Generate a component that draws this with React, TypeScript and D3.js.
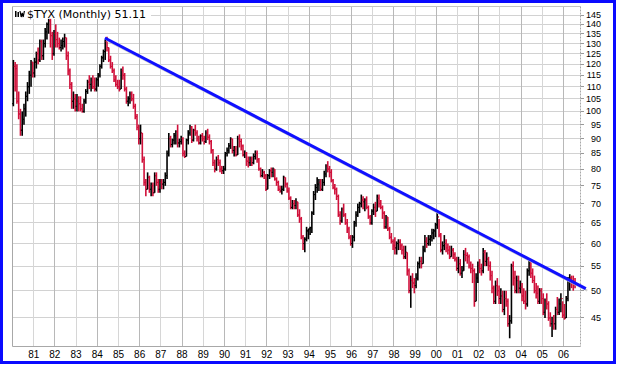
import React from 'react'
import * as d3 from 'd3'

// $TYX monthly bars, Jan 1980 .. Jul 2006 (open = previous close)
const startYear = 1980
const firstOpen = 103

const highs = [
  122, 121, 120, 108, 101, 100, 103, 108, 112, 117, 122, 121, // 1980
  123, 126, 128, 132, 132, 132, 138, 141, 143, 143, 136, 137, // 1981
  140, 136, 133, 132, 133, 135, 133, 126, 118, 112, 108, 107, // 1982
  107, 106, 106, 103, 105, 109, 113, 115, 114, 115, 114, 114, // 1983
  116, 120, 124, 127, 132, 133.5, 128, 124, 121, 118, 115, 113, // 1984
  113, 118, 119, 116, 110, 106, 108, 108, 107, 103, 99, 95, // 1985
  95, 92, 84, 77, 79, 78, 76, 76, 79, 79, 77, 77, // 1986
  77, 77, 79, 86, 92, 91, 90, 92, 93, 95, 90, 91, // 1987
  90.5, 86, 90, 93, 95, 94.5, 93.5, 95, 93, 91, 91.5, 92, // 1988
  91, 93, 93.5, 91.5, 89.5, 86.5, 83, 84, 84.5, 83, 81, 81, // 1989
  85.5, 87, 88.5, 90.5, 90, 87.5, 87.5, 91, 91.5, 90, 88, 86, // 1990
  85.5, 84, 84, 84, 85, 86, 86, 83.5, 80.5, 80, 79.5, 78.5, // 1991
  78.5, 80, 80.5, 80.5, 80, 77.5, 76.5, 75, 75, 78, 77.5, 76, // 1992
  74.5, 72, 71, 71, 71.5, 70.5, 68.5, 66.5, 62, 61.5, 64, 63.5, // 1993
  64, 68, 73.5, 75.5, 77.5, 77, 77, 77, 79.5, 81.5, 82.5, 81, // 1994
  80, 77, 75.5, 74.5, 72.5, 68, 69, 70, 67.5, 66, 64, 62, // 1995
  62, 65.5, 68, 70, 70.5, 72.5, 72, 71.5, 72, 69.5, 67, 68.5, // 1996
  70, 70.5, 72.5, 72.5, 71, 69.5, 68, 67, 66.5, 64, 62.5, 61, // 1997
  61.5, 60.5, 61, 61, 60, 59.5, 59.5, 58, 54.5, 53, 53.5, 52.5, // 1998
  53.5, 56, 57, 57, 59.5, 62, 61.5, 62, 62, 63.5, 63.5, 65, // 1999
  68, 66, 62.5, 60.5, 62, 61, 60, 59.5, 59.5, 59, 58, 57, // 2000
  57, 56.5, 55, 58.5, 59, 58, 57.5, 56, 55.5, 54.5, 53.5, 56, // 2001
  56.5, 55.5, 59, 58.5, 58, 57, 56, 54, 51, 52, 52.5, 51, // 2002
  50.5, 50, 50, 50, 48.5, 45.5, 55.5, 56, 54, 53, 53, 52, // 2003
  51.5, 50.5, 50, 54.5, 56.5, 56, 54.5, 53, 51.5, 51, 50.5, 50.5, // 2004
  49.5, 48.5, 49.5, 48, 46, 45.2, 45.5, 47, 48.8, 48.5, 49.5, 48, // 2005
  47.5, 49, 52.7, 53.3, 53, 53, 52.5, // 2006
]

const lows = [
  102, 108, 103, 97, 91, 91, 95, 98, 104, 107, 110, 114,
  114, 118, 120, 121, 122, 122, 128, 132, 135, 128, 122, 124,
  128, 128, 127, 126, 127, 128, 122, 115, 109, 101, 101, 100,
  100, 100, 100, 99.5, 99.5, 103, 107, 109, 108, 109, 108, 108,
  110, 114, 118, 121, 122, 126, 121, 118, 116, 112, 110, 109,
  108, 109, 113, 108, 103, 102, 103, 104, 101, 97, 93, 88,
  88, 82, 75, 72, 74, 73, 72, 72, 73, 75, 73, 73,
  74, 74, 75, 77, 84, 87, 87, 88, 88, 87, 87, 88,
  84, 83.5, 84, 88, 91, 88.5, 89, 91, 89, 88, 88, 89,
  88, 88.5, 89.5, 88, 85, 81, 79, 79.5, 81, 79, 78.5, 78.5,
  79.5, 84, 85, 86.5, 85, 84, 84, 84.5, 87, 86, 84, 83.5,
  81, 80.5, 81, 81, 81.5, 83, 82, 79.5, 77.5, 77.5, 77, 73.5,
  74, 77, 77.5, 77.5, 76.5, 75, 73.5, 73, 72.5, 73.5, 74.5, 73,
  71, 68.5, 68.5, 68.5, 68.5, 66.5, 65, 61, 58.5, 58, 60.5, 61,
  62, 62.5, 67, 71, 73, 73.5, 73.5, 73.5, 75, 77.5, 79, 77.5,
  76, 74, 72.5, 71, 66.5, 64.5, 65, 66.5, 64.5, 62.5, 61, 59.5,
  59, 60.5, 64, 66.5, 67.5, 69, 68.5, 68, 68.5, 66, 64.5, 64.5,
  67, 66.5, 68, 69, 68.5, 66, 63.5, 63.5, 63, 61, 60, 58.5,
  57.5, 57.5, 58.5, 58.5, 57.5, 56.5, 56.5, 53, 49.5, 46.8, 50.5, 49.5,
  50.5, 52, 54.5, 54.5, 55.5, 58, 59, 59.5, 59.5, 60.5, 61, 61.5,
  63.5, 61.5, 58, 57.5, 58.5, 58, 57.5, 56.5, 57, 56.5, 56, 54,
  53.5, 53, 52.5, 54, 56, 55.5, 54.5, 53.5, 51.5, 47, 48, 51.5,
  53.5, 53, 53.5, 55, 55, 54, 52, 49.5, 47.5, 47.5, 49, 47.5,
  47.5, 46, 45.5, 47, 43.5, 41.6, 44, 51, 49.5, 49.5, 49.5, 49.5,
  48, 47.5, 46.5, 47, 53, 52.5, 51.5, 49.5, 48.5, 47.5, 47.5, 47.5,
  45.5, 45, 46.5, 44.5, 43.5, 41.8, 43, 43, 45.5, 45.5, 46, 45,
  44.7, 45, 48, 50, 50.5, 50, 50.5,
]

const closes = [
  119, 118, 104, 99, 93, 97, 101, 106, 110, 115, 121, 116,
  121, 125, 122, 131, 124, 130, 136, 140, 142, 134, 125, 135,
  132, 130, 128, 129, 131, 133, 124, 117, 111, 104, 105, 102,
  104, 103, 101, 100, 104, 108, 112, 111, 112, 110, 109, 113,
  115, 119, 123, 126, 131, 128, 122, 119, 117, 113, 111, 110,
  109, 117, 115, 109, 104, 105, 107, 105, 102, 98, 94, 90,
  92, 83, 76, 74, 77.5, 74, 75, 73, 78, 76, 74, 76,
  75.5, 76, 78, 85, 90, 88, 89.5, 91, 92.5, 88.5, 89, 90,
  85, 84, 89.5, 92, 94, 89.5, 93, 92, 90, 88.5, 91, 90,
  89, 92, 90.5, 89, 86, 82, 80, 83, 82, 80, 79.5, 80,
  85, 86, 87.5, 90, 86, 86.5, 84.5, 90, 89, 87.5, 84.5, 85,
  82.5, 82, 83, 82, 84, 85, 83, 80, 78, 79, 78, 74,
  78, 79.5, 79, 80, 77, 76, 74, 73.5, 74, 77.5, 75.5, 73.5,
  71.5, 69, 70, 69.5, 70.5, 67, 66, 61.5, 60, 61, 63, 63.5,
  63.8, 67.5, 72.5, 74.5, 75.5, 76, 74, 76, 78.5, 81, 80, 79,
  76.5, 74.5, 74, 72, 67, 65.5, 68.5, 67, 65, 63.5, 61.5, 60,
  61.5, 65, 67, 69, 70, 71, 70.5, 71, 69, 66.5, 65, 68,
  69, 68, 71.5, 70, 69, 67.5, 64, 66.5, 63.5, 61.5, 60.5, 59.5,
  59, 60, 60.3, 59.5, 58.5, 57, 58, 54, 50, 52, 51.5, 51,
  52.5, 55.5, 56, 55.5, 58.5, 60.5, 60, 61, 61.5, 62.5, 63, 64.5,
  66.5, 62, 58.5, 59.5, 60, 59, 58.5, 57, 58.5, 57.5, 56.5, 54.5,
  55.5, 53.5, 54, 57.5, 57.3, 57, 55, 54.5, 54, 48, 52.5, 55,
  54.5, 54, 58, 56, 56.5, 55, 53, 50.5, 48, 51, 50, 48.5,
  49, 46.5, 48.5, 48, 44, 44.5, 55, 52.5, 50, 52, 50.5, 50.7,
  49, 48, 47.5, 54, 55, 53.5, 52, 50, 49.5, 48, 50, 48.5,
  46, 48, 47.5, 45, 44, 44.5, 44, 46.5, 46, 47.5, 48.5, 45.5,
  45, 48.5, 52, 52.5, 51.5, 51.3, 51.11,
]

const yearLabels = ['81', '82', '83', '84', '85', '86', '87', '88', '89', '90', '91', '92', '93',
  '94', '95', '96', '97', '98', '99', '00', '01', '02', '03', '04', '05', '06']
const priceTicks = [45, 50, 55, 60, 65, 70, 75, 80, 85, 90, 95, 100, 105, 110, 115, 120, 125, 130, 135, 140, 145]
const trendLine = [
  { year: 1984.36, value: 132.8 },
  { year: 2007.05, value: 50.4 },
]
const title = '$TYX (Monthly) 51.11'

const left = 12.5
const right = 580.5
const top = 6.5
const bottom = 346.5

const font = 'Liberation Sans, Arial, sans-serif'

export default function App() {
  const x = d3.scaleLinear().domain([1980, 2006.8]).range([left, right])
  const y = d3.scaleLog().domain([40.3, 150]).range([bottom, top])
  const crisp = (v: number) => Math.round(v - 0.5) + 0.5

  const bars = closes.map((c, i) => {
    const o = i === 0 ? firstOpen : closes[i - 1]
    return { t: startYear + (i + 0.5) / 12, o, h: highs[i], l: lows[i], c }
  })

  const trend = d3.line<{ year: number; value: number }>()
    .x(d => x(d.year))
    .y(d => y(d.value))

  return (
    <div style={{ position: 'absolute', left: 0, top: 0 }}>
      <svg width={620} height={365} style={{ display: 'block', background: '#fff' }}>
        {/* horizontal grid */}
        {priceTicks.map(v => (
          <line key={'h' + v} x1={left} x2={right} y1={crisp(y(v))} y2={crisp(y(v))}
            stroke="#d2d2d2" strokeWidth={1} />
        ))}
        {/* vertical grid */}
        {yearLabels.map((_, i) => {
          const yr = 1981 + i
          const xx = crisp(x(yr))
          return (
            <line key={'v' + yr} x1={xx} x2={xx} y1={top} y2={bottom}
              stroke={yr % 2 === 0 ? '#b8b8b8' : '#d6d6d6'} strokeWidth={1} />
          )
        })}
        {/* frame */}
        <line x1={left} x2={right} y1={top} y2={top} stroke="#c4c4c4" />
        <line x1={left} x2={left} y1={top} y2={bottom} stroke="#a8a8a8" />
        <line x1={left} x2={right} y1={bottom} y2={bottom} stroke="#a8a8a8" />
        <line x1={right} x2={right} y1={top} y2={bottom} stroke="#a8a8a8" strokeDasharray="2,1" />
        {priceTicks.map(v => (
          <line key={'t' + v} x1={right} x2={right + 3.5} y1={crisp(y(v))} y2={crisp(y(v))}
            stroke="#999" />
        ))}

        {/* title */}
        <rect x={13} y={7} width={138} height={12} fill="#fff" />
        <g fill="#000">
          <rect x={15} y={11} width={1.5} height={6} />
          <rect x={17.5} y={12} width={1.5} height={5} />
          <path d="M20 11 L21.2 17 L22.2 13 L23.2 17 L24.4 11" fill="none" stroke="#000" strokeWidth={1.2} />
        </g>
        <text x={27} y={18} fontFamily="DejaVu Sans, Verdana, sans-serif" fontSize={11} textLength={119}
          lengthAdjust="spacing" fill="#000">{title}</text>

        {/* OHLC bars */}
        {bars.map((b, i) => {
          const xx = x(b.t)
          const col = b.c >= b.o ? '#000000' : '#d0103a'
          return (
            <g key={'b' + i} stroke={col}>
              <line x1={xx} x2={xx} y1={y(b.h)} y2={y(b.l)} strokeWidth={1.6} />
              <line x1={xx - 1.4} x2={xx} y1={y(b.o)} y2={y(b.o)} strokeWidth={1} />
              <line x1={xx} x2={xx + 1.4} y1={y(b.c)} y2={y(b.c)} strokeWidth={1} />
            </g>
          )
        })}

        {/* trend line with shadow */}
        <path d={trend(trendLine) || ''} transform="translate(1.5,2)" fill="none" stroke="#cfcfcf" strokeWidth={2} />
        <path d={trend(trendLine) || ''} fill="none" stroke="#1010ff" strokeWidth={3} />

        {/* axis labels */}
        {priceTicks.map(v => (
          <text key={'l' + v} x={601} y={y(v)} dy="0.34em" textAnchor="end"
            fontFamily={font} fontSize={9} fill="#000">{v}</text>
        ))}
        {yearLabels.map((lab, i) => (
          <text key={'y' + lab} x={x(1981 + i)} y={358} textAnchor="middle"
            fontFamily={font} fontSize={10} fill="#000">{lab}</text>
        ))}

        {/* outer border */}
        <rect x={1.5} y={1.5} width={613} height={361} fill="none" stroke="#0a0aff" strokeWidth={3} />
      </svg>
    </div>
  )
}
